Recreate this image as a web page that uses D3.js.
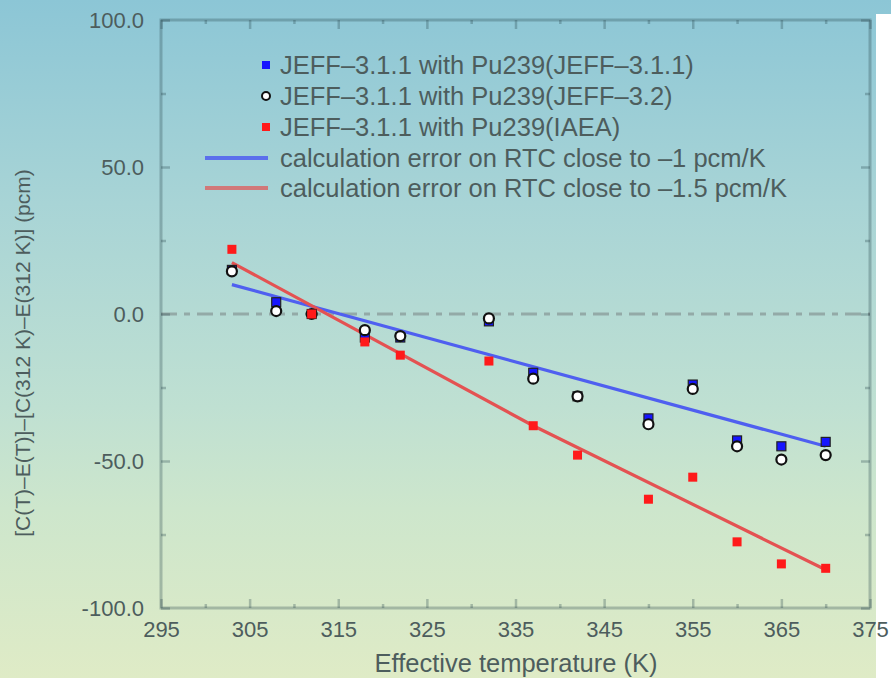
<!DOCTYPE html>
<html><head><meta charset="utf-8">
<script src="https://cdn.jsdelivr.net/npm/d3@7"></script>
<style>body{margin:0;background:#fff}svg{display:block}text{font-family:"Liberation Sans",Arial,sans-serif}</style>
</head><body>
<svg id="c" width="891" height="678"></svg>
<script>
// ---- data ----
const temps   = [303, 308, 312, 318, 322, 332, 337, 342, 350, 355, 360, 365, 370];
const jeff311 = [15, 4, 0, -8, -8, -2.5, -20, -28, -35.5, -24, -43, -45, -43.5];
const jeff32  = [14.5, 1, 0, -5.5, -7.5, -1.5, -22, -28, -37.5, -25.5, -45, -49.5, -48];
const iaea    = [22, null, 0, -9.5, -14, -16, -38, -48, -63, -55.5, -77.5, -85, -86.5];
const fitBlueT = [303, 370];
const fitBlueV = [10, -45];
const fitRedT  = [303, 337, 370];
const fitRedV  = [17.5, -38, -87];
const xTicks = [295, 305, 315, 325, 335, 345, 355, 365, 375];
const xMinor = [300, 310, 320, 330, 340, 350, 360, 370];
const yTicks = [100, 50, 0, -50, -100];
const yMinor = [75, 25, -25, -75];
const legendLabels = [
  "JEFF\u20133.1.1 with Pu239(JEFF\u20133.1.1)",
  "JEFF\u20133.1.1 with Pu239(JEFF\u20133.2)",
  "JEFF\u20133.1.1 with Pu239(IAEA)",
  "calculation error on RTC close to \u20131 pcm/K",
  "calculation error on RTC close to \u20131.5 pcm/K"
];
const xTitle = "Effective temperature (K)";
const yTitle = "[C(T)\u2013E(T)]\u2013[C(312 K)\u2013E(312 K)]  (pcm)";

// ---- layout ----
const W = 891, H = 678;
const L = 161, R = 870, T = 20, B = 608;
const svg = d3.select("#c");
const x = d3.scaleLinear().domain([295, 375]).range([L, R]);
const y = d3.scaleLinear().domain([-100, 100]).range([B, T]);

const blueC = "#4f5ff0", redC = "#e45252";
const axisC = "rgba(40,70,75,0.3)";
const textC = "#4d5d5d";

// background gradient
const defs = svg.append("defs");
const g = defs.append("linearGradient").attr("id","bg").attr("x1",0).attr("y1",0).attr("x2",0).attr("y2",1);
[[0,"#8cc6d6"],[0.3,"#a8d4d6"],[0.6,"#bfe0d2"],[0.75,"#cde6cc"],[1,"#dfebc6"]]
  .forEach(([o,c]) => g.append("stop").attr("offset",o).attr("stop-color",c));
svg.append("rect").attr("width",W).attr("height",H).attr("fill","url(#bg)");
svg.append("rect").attr("x",876).attr("y",14).attr("width",W-876).attr("height",H-14).attr("fill","#fff");

// zero dash-dot line
svg.append("line").attr("x1",L).attr("x2",R).attr("y1",y(0)).attr("y2",y(0))
  .attr("stroke","#93aaa7").attr("stroke-width",3).attr("stroke-dasharray","16 7 6 7");

// axes
function styleAxis(sel, labels){
  sel.select(".domain").remove();
  sel.selectAll(".tick line").attr("stroke",axisC).attr("stroke-width",2.5);
  sel.selectAll(".tick text").attr("fill",textC).style("font-size","22px");
  if(!labels) sel.selectAll(".tick text").remove();
}
svg.append("g").attr("transform",`translate(0,${B})`)
  .call(d3.axisBottom(x).tickValues(xTicks).tickSizeInner(-9).tickSizeOuter(0).tickPadding(13).tickFormat(d3.format("d")))
  .call(s=>styleAxis(s,true));
svg.append("g").attr("transform",`translate(0,${B})`)
  .call(d3.axisBottom(x).tickValues(xMinor).tickSizeInner(-4).tickSizeOuter(0))
  .call(s=>styleAxis(s,false));
svg.append("g").attr("transform",`translate(0,${T})`)
  .call(d3.axisTop(x).tickValues(xTicks).tickSizeInner(-9).tickSizeOuter(0))
  .call(s=>styleAxis(s,false));
svg.append("g").attr("transform",`translate(0,${T})`)
  .call(d3.axisTop(x).tickValues(xMinor).tickSizeInner(-4).tickSizeOuter(0))
  .call(s=>styleAxis(s,false));
svg.append("g").attr("transform",`translate(${L},0)`)
  .call(d3.axisLeft(y).tickValues(yTicks).tickSizeInner(-9).tickSizeOuter(0).tickPadding(17).tickFormat(d3.format(".1f")))
  .call(s=>styleAxis(s,true));
svg.append("g").attr("transform",`translate(${L},0)`)
  .call(d3.axisLeft(y).tickValues(yMinor).tickSizeInner(-5).tickSizeOuter(0))
  .call(s=>styleAxis(s,false));
svg.append("g").attr("transform",`translate(${R},0)`)
  .call(d3.axisRight(y).tickValues(yTicks).tickSizeInner(-9).tickSizeOuter(0))
  .call(s=>styleAxis(s,false));
svg.append("g").attr("transform",`translate(${R},0)`)
  .call(d3.axisRight(y).tickValues(yMinor).tickSizeInner(-5).tickSizeOuter(0))
  .call(s=>styleAxis(s,false));
// frame
svg.append("rect").attr("x",L).attr("y",T).attr("width",R-L).attr("height",B-T)
  .attr("fill","none").attr("stroke",axisC).attr("stroke-width",3);
svg.selectAll(".tick text").each(function(){ this.textContent = this.textContent.replace("\u2212","-"); });

// fit lines
const line = d3.line().x(d=>x(d[0])).y(d=>y(d[1]));
svg.append("path").datum(fitBlueT.map((t,i)=>[t,fitBlueV[i]]))
  .attr("d",line).attr("fill","none").attr("stroke",blueC).attr("stroke-width",3.2);
svg.append("path").datum(fitRedT.map((t,i)=>[t,fitRedV[i]]))
  .attr("d",line).attr("fill","none").attr("stroke",redC).attr("stroke-width",3.2);

// points
const s1 = temps.map((t,i)=>[t,jeff311[i]]).filter(d=>d[1]!=null);
const s2 = temps.map((t,i)=>[t,jeff32[i]]).filter(d=>d[1]!=null);
const s3 = temps.map((t,i)=>[t,iaea[i]]).filter(d=>d[1]!=null);
svg.append("g").selectAll("rect").data(s1).join("rect")
  .attr("x",d=>x(d[0])-4.5).attr("y",d=>y(d[1])-4.5).attr("width",9).attr("height",9)
  .attr("fill","#1515ff").attr("stroke","#222").attr("stroke-width",1.2);
svg.append("g").selectAll("circle").data(s2).join("circle")
  .attr("cx",d=>x(d[0])).attr("cy",d=>y(d[1])).attr("r",5)
  .attr("fill","#fff").attr("stroke","#111").attr("stroke-width",2.2);
svg.append("g").selectAll("rect").data(s3).join("rect")
  .attr("x",d=>x(d[0])-4.5).attr("y",d=>y(d[1])-4.5).attr("width",9).attr("height",9)
  .attr("fill","#ff1a1a");

// legend
const rowsY = [65, 96, 127, 158, 188];
const lg = svg.append("g");
lg.append("rect").attr("x",262).attr("y",rowsY[0]-4).attr("width",8).attr("height",8).attr("fill","#1515ff");
lg.append("circle").attr("cx",266).attr("cy",rowsY[1]).attr("r",4).attr("fill","#fff").attr("stroke","#111").attr("stroke-width",2);
lg.append("rect").attr("x",262).attr("y",rowsY[2]-4).attr("width",8).attr("height",8).attr("fill","#ff1a1a");
lg.append("line").attr("x1",205).attr("x2",268).attr("y1",rowsY[3]).attr("y2",rowsY[3]).attr("stroke",blueC).attr("stroke-width",4).attr("opacity",0.85);
lg.append("line").attr("x1",205).attr("x2",268).attr("y1",rowsY[4]).attr("y2",rowsY[4]).attr("stroke",redC).attr("stroke-width",4).attr("opacity",0.7);
lg.selectAll("text").data(legendLabels).join("text")
  .attr("x",280).attr("y",(d,i)=>rowsY[i]).attr("dy","0.36em")
  .attr("fill",textC).style("font-size","25.5px").text(d=>d);

// titles
svg.append("text").attr("x",516).attr("y",663).attr("dy","0.36em").attr("text-anchor","middle")
  .attr("fill",textC).style("font-size","25.5px").text(xTitle);
svg.append("text").attr("transform","translate(22,353) rotate(-90)").attr("text-anchor","middle").attr("dy","0.36em")
  .attr("fill",textC).style("font-size","21px").text(yTitle);
</script>
</body></html>
